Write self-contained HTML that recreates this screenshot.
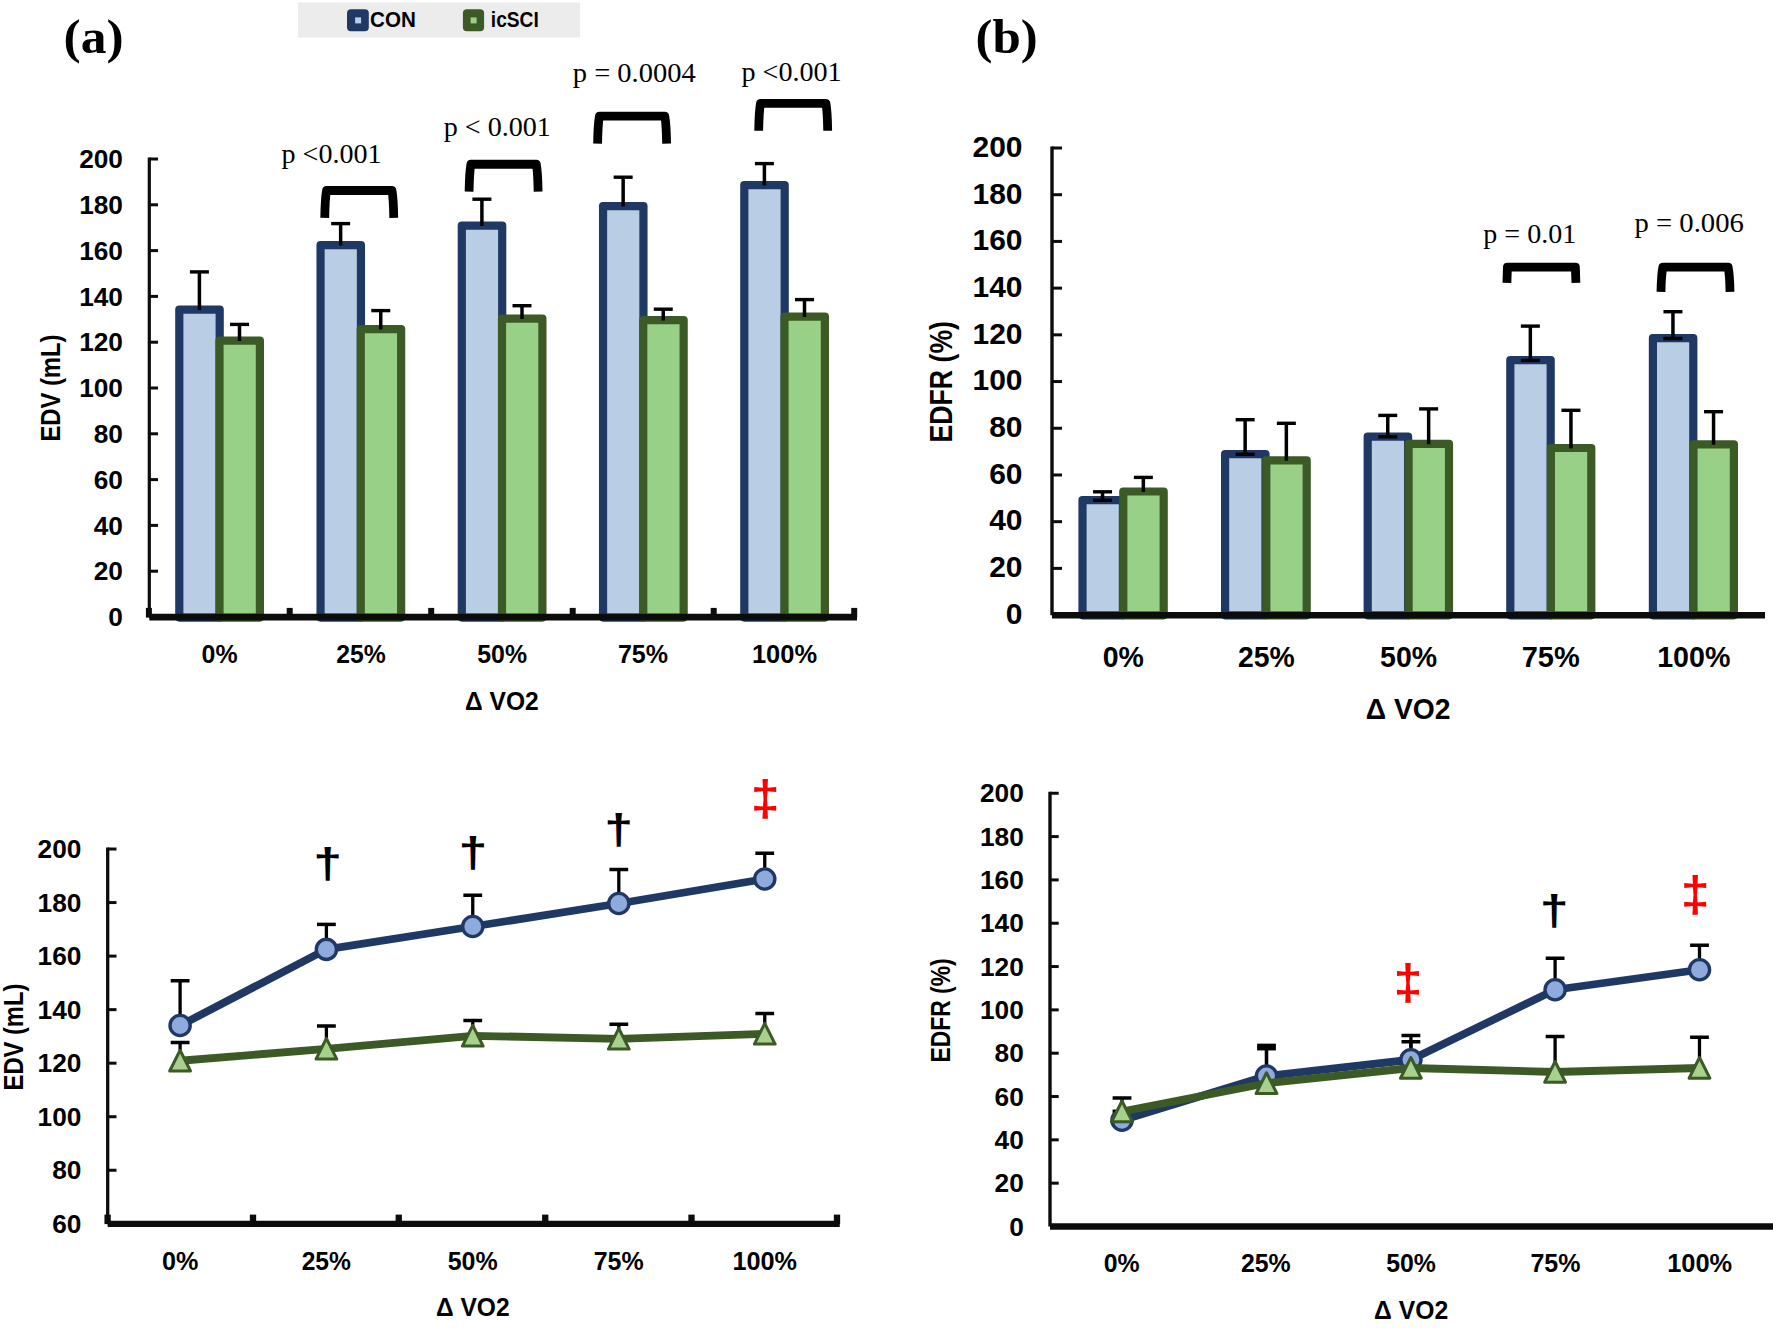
<!DOCTYPE html>
<html><head><meta charset="utf-8"><title>Figure</title>
<style>
html,body{margin:0;padding:0;background:#fff;}
svg{display:block}
text{font-kerning:none;white-space:pre}
</style></head><body>
<svg width="1773" height="1328" viewBox="0 0 1773 1328">
<rect width="1773" height="1328" fill="#fff"/>
<rect x="298" y="2.5" width="282" height="35" fill="#ececec"/>
<rect x="347" y="9.3" width="21.8" height="22" rx="4" fill="#1f3864"/>
<rect x="355.1" y="17.4" width="6" height="6" fill="#b9cde5"/>
<rect x="462.9" y="9.3" width="21.2" height="22" rx="4" fill="#3b5a25"/>
<rect x="470.6" y="17.4" width="6" height="6" fill="#99d087"/>
<text transform="translate(370.06,27.10) scale(0.9523,1.0000)" font-family="'Liberation Sans',sans-serif" font-weight="bold" font-size="21.61" fill="#000">CON</text>
<text transform="translate(490.86,27.10) scale(0.8866,1.0000)" font-family="'Liberation Sans',sans-serif" font-weight="bold" font-size="21.61" fill="#000">icSCI</text>
<text transform="translate(63.53,53.30) scale(1.0532,1.0000)" font-family="'Liberation Serif',serif" font-weight="bold" font-size="48.97" fill="#000">(a)</text>
<text transform="translate(975.46,53.30) scale(1.0407,1.0000)" font-family="'Liberation Serif',serif" font-weight="bold" font-size="48.97" fill="#000">(b)</text>
<rect x="179.30" y="309.60" width="40.40" height="308.00" fill="#b9cde5" stroke="#1f3864" stroke-width="8.2" stroke-linejoin="round"/>
<rect x="219.50" y="340.60" width="40.40" height="277.00" fill="#99d087" stroke="#3b5a25" stroke-width="8.2" stroke-linejoin="round"/>
<rect x="320.55" y="245.10" width="40.40" height="372.50" fill="#b9cde5" stroke="#1f3864" stroke-width="8.2" stroke-linejoin="round"/>
<rect x="360.75" y="329.10" width="40.40" height="288.50" fill="#99d087" stroke="#3b5a25" stroke-width="8.2" stroke-linejoin="round"/>
<rect x="461.80" y="225.60" width="40.40" height="392.00" fill="#b9cde5" stroke="#1f3864" stroke-width="8.2" stroke-linejoin="round"/>
<rect x="502.00" y="318.60" width="40.40" height="299.00" fill="#99d087" stroke="#3b5a25" stroke-width="8.2" stroke-linejoin="round"/>
<rect x="603.05" y="206.10" width="40.40" height="411.50" fill="#b9cde5" stroke="#1f3864" stroke-width="8.2" stroke-linejoin="round"/>
<rect x="643.25" y="320.10" width="40.40" height="297.50" fill="#99d087" stroke="#3b5a25" stroke-width="8.2" stroke-linejoin="round"/>
<rect x="744.30" y="185.10" width="40.40" height="432.50" fill="#b9cde5" stroke="#1f3864" stroke-width="8.2" stroke-linejoin="round"/>
<rect x="784.50" y="316.60" width="40.40" height="301.00" fill="#99d087" stroke="#3b5a25" stroke-width="8.2" stroke-linejoin="round"/>
<line x1="199.40" y1="271.90" x2="199.40" y2="310.00" stroke="#000" stroke-width="3.5" stroke-linecap="butt"/>
<line x1="189.90" y1="271.90" x2="208.90" y2="271.90" stroke="#000" stroke-width="3.4" stroke-linecap="butt"/>
<line x1="239.50" y1="324.40" x2="239.50" y2="341.00" stroke="#000" stroke-width="3.5" stroke-linecap="butt"/>
<line x1="230.00" y1="324.40" x2="249.00" y2="324.40" stroke="#000" stroke-width="3.4" stroke-linecap="butt"/>
<line x1="340.65" y1="223.60" x2="340.65" y2="245.50" stroke="#000" stroke-width="3.5" stroke-linecap="butt"/>
<line x1="331.15" y1="223.60" x2="350.15" y2="223.60" stroke="#000" stroke-width="3.4" stroke-linecap="butt"/>
<line x1="380.75" y1="310.60" x2="380.75" y2="329.50" stroke="#000" stroke-width="3.5" stroke-linecap="butt"/>
<line x1="371.25" y1="310.60" x2="390.25" y2="310.60" stroke="#000" stroke-width="3.4" stroke-linecap="butt"/>
<line x1="481.90" y1="199.20" x2="481.90" y2="226.00" stroke="#000" stroke-width="3.5" stroke-linecap="butt"/>
<line x1="472.40" y1="199.20" x2="491.40" y2="199.20" stroke="#000" stroke-width="3.4" stroke-linecap="butt"/>
<line x1="522.00" y1="305.70" x2="522.00" y2="319.00" stroke="#000" stroke-width="3.5" stroke-linecap="butt"/>
<line x1="512.50" y1="305.70" x2="531.50" y2="305.70" stroke="#000" stroke-width="3.4" stroke-linecap="butt"/>
<line x1="623.15" y1="177.20" x2="623.15" y2="206.50" stroke="#000" stroke-width="3.5" stroke-linecap="butt"/>
<line x1="613.65" y1="177.20" x2="632.65" y2="177.20" stroke="#000" stroke-width="3.4" stroke-linecap="butt"/>
<line x1="663.25" y1="309.20" x2="663.25" y2="320.50" stroke="#000" stroke-width="3.5" stroke-linecap="butt"/>
<line x1="653.75" y1="309.20" x2="672.75" y2="309.20" stroke="#000" stroke-width="3.4" stroke-linecap="butt"/>
<line x1="764.40" y1="163.60" x2="764.40" y2="185.50" stroke="#000" stroke-width="3.5" stroke-linecap="butt"/>
<line x1="754.90" y1="163.60" x2="773.90" y2="163.60" stroke="#000" stroke-width="3.4" stroke-linecap="butt"/>
<line x1="804.50" y1="299.60" x2="804.50" y2="317.00" stroke="#000" stroke-width="3.5" stroke-linecap="butt"/>
<line x1="795.00" y1="299.60" x2="814.00" y2="299.60" stroke="#000" stroke-width="3.4" stroke-linecap="butt"/>
<line x1="149.30" y1="157.50" x2="149.30" y2="617.10" stroke="#0c0c0c" stroke-width="3.2" stroke-linecap="butt"/>
<line x1="149.30" y1="617.00" x2="158.00" y2="617.00" stroke="#0c0c0c" stroke-width="3" stroke-linecap="butt"/>
<text transform="translate(108.37,626.20) scale(1.0100,1.0000)" font-family="'Liberation Sans',sans-serif" font-weight="bold" font-size="26.00" fill="#000">0</text>
<line x1="149.30" y1="571.20" x2="158.00" y2="571.20" stroke="#0c0c0c" stroke-width="3" stroke-linecap="butt"/>
<text transform="translate(93.77,580.40) scale(1.0100,1.0000)" font-family="'Liberation Sans',sans-serif" font-weight="bold" font-size="26.00" fill="#000">20</text>
<line x1="149.30" y1="525.40" x2="158.00" y2="525.40" stroke="#0c0c0c" stroke-width="3" stroke-linecap="butt"/>
<text transform="translate(93.77,534.60) scale(1.0100,1.0000)" font-family="'Liberation Sans',sans-serif" font-weight="bold" font-size="26.00" fill="#000">40</text>
<line x1="149.30" y1="479.60" x2="158.00" y2="479.60" stroke="#0c0c0c" stroke-width="3" stroke-linecap="butt"/>
<text transform="translate(93.77,488.80) scale(1.0100,1.0000)" font-family="'Liberation Sans',sans-serif" font-weight="bold" font-size="26.00" fill="#000">60</text>
<line x1="149.30" y1="433.80" x2="158.00" y2="433.80" stroke="#0c0c0c" stroke-width="3" stroke-linecap="butt"/>
<text transform="translate(93.77,443.00) scale(1.0100,1.0000)" font-family="'Liberation Sans',sans-serif" font-weight="bold" font-size="26.00" fill="#000">80</text>
<line x1="149.30" y1="388.00" x2="158.00" y2="388.00" stroke="#0c0c0c" stroke-width="3" stroke-linecap="butt"/>
<text transform="translate(79.16,397.20) scale(1.0100,1.0000)" font-family="'Liberation Sans',sans-serif" font-weight="bold" font-size="26.00" fill="#000">100</text>
<line x1="149.30" y1="342.20" x2="158.00" y2="342.20" stroke="#0c0c0c" stroke-width="3" stroke-linecap="butt"/>
<text transform="translate(79.16,351.40) scale(1.0100,1.0000)" font-family="'Liberation Sans',sans-serif" font-weight="bold" font-size="26.00" fill="#000">120</text>
<line x1="149.30" y1="296.40" x2="158.00" y2="296.40" stroke="#0c0c0c" stroke-width="3" stroke-linecap="butt"/>
<text transform="translate(79.16,305.60) scale(1.0100,1.0000)" font-family="'Liberation Sans',sans-serif" font-weight="bold" font-size="26.00" fill="#000">140</text>
<line x1="149.30" y1="250.60" x2="158.00" y2="250.60" stroke="#0c0c0c" stroke-width="3" stroke-linecap="butt"/>
<text transform="translate(79.16,259.80) scale(1.0100,1.0000)" font-family="'Liberation Sans',sans-serif" font-weight="bold" font-size="26.00" fill="#000">160</text>
<line x1="149.30" y1="204.80" x2="158.00" y2="204.80" stroke="#0c0c0c" stroke-width="3" stroke-linecap="butt"/>
<text transform="translate(79.16,214.00) scale(1.0100,1.0000)" font-family="'Liberation Sans',sans-serif" font-weight="bold" font-size="26.00" fill="#000">180</text>
<line x1="149.30" y1="159.00" x2="158.00" y2="159.00" stroke="#0c0c0c" stroke-width="3" stroke-linecap="butt"/>
<text transform="translate(79.16,168.20) scale(1.0100,1.0000)" font-family="'Liberation Sans',sans-serif" font-weight="bold" font-size="26.00" fill="#000">200</text>
<line x1="149.30" y1="617.10" x2="857.00" y2="617.10" stroke="#0c0c0c" stroke-width="6.7" stroke-linecap="butt"/>
<line x1="148.90" y1="607.90" x2="148.90" y2="617.60" stroke="#0c0c0c" stroke-width="6" stroke-linecap="butt"/>
<line x1="289.70" y1="607.90" x2="289.70" y2="617.60" stroke="#0c0c0c" stroke-width="6" stroke-linecap="butt"/>
<line x1="431.20" y1="607.90" x2="431.20" y2="617.60" stroke="#0c0c0c" stroke-width="6" stroke-linecap="butt"/>
<line x1="572.70" y1="607.90" x2="572.70" y2="617.60" stroke="#0c0c0c" stroke-width="6" stroke-linecap="butt"/>
<line x1="713.70" y1="607.90" x2="713.70" y2="617.60" stroke="#0c0c0c" stroke-width="6" stroke-linecap="butt"/>
<line x1="854.20" y1="607.90" x2="854.20" y2="617.60" stroke="#0c0c0c" stroke-width="6" stroke-linecap="butt"/>
<text transform="translate(201.61,663.20) scale(0.9592,1.0000)" font-family="'Liberation Sans',sans-serif" font-weight="bold" font-size="26.00" fill="#000">0%</text>
<text transform="translate(336.14,663.20) scale(0.9514,1.0000)" font-family="'Liberation Sans',sans-serif" font-weight="bold" font-size="26.00" fill="#000">25%</text>
<text transform="translate(477.23,663.20) scale(0.9574,1.0000)" font-family="'Liberation Sans',sans-serif" font-weight="bold" font-size="26.00" fill="#000">50%</text>
<text transform="translate(617.92,663.20) scale(0.9635,1.0000)" font-family="'Liberation Sans',sans-serif" font-weight="bold" font-size="26.00" fill="#000">75%</text>
<text transform="translate(751.89,663.20) scale(0.9801,1.0000)" font-family="'Liberation Sans',sans-serif" font-weight="bold" font-size="26.00" fill="#000">100%</text>
<text transform="translate(465.10,709.80) scale(0.9382,1.0000)" font-family="'Liberation Sans',sans-serif" font-weight="bold" font-size="26.20" fill="#000">Δ VO2</text>
<text transform="translate(59.85,441.59) rotate(-90) scale(0.8870,1.0000)" font-family="'Liberation Sans',sans-serif" font-weight="bold" font-size="26.80" fill="#000">EDV (mL)</text>
<path d="M324.75,217.90 Q325.05,198.50 326.55,190.50 L391.95,190.50 Q393.45,198.50 393.75,217.90" fill="none" stroke="#000" stroke-width="8.8" stroke-linejoin="round"/>
<path d="M469.10,191.65 Q469.40,172.25 470.90,164.25 L536.30,164.25 Q537.80,172.25 538.10,191.65" fill="none" stroke="#000" stroke-width="8.8" stroke-linejoin="round"/>
<path d="M597.60,143.60 Q597.90,124.20 599.40,116.20 L664.80,116.20 Q666.30,124.20 666.60,143.60" fill="none" stroke="#000" stroke-width="8.8" stroke-linejoin="round"/>
<path d="M758.70,130.80 Q759.00,111.40 760.50,103.40 L825.90,103.40 Q827.40,111.40 827.70,130.80" fill="none" stroke="#000" stroke-width="8.8" stroke-linejoin="round"/>
<text transform="translate(281.55,163.40) scale(0.9964,1.0000)" font-family="'Liberation Serif',serif" font-weight="normal" font-size="28.20" fill="#000">p &lt;0.001</text>
<text transform="translate(443.75,136.40) scale(0.9971,1.0000)" font-family="'Liberation Serif',serif" font-weight="normal" font-size="28.20" fill="#000">p &lt; 0.001</text>
<text transform="translate(572.74,82.00) scale(1.0119,1.0000)" font-family="'Liberation Serif',serif" font-weight="normal" font-size="28.20" fill="#000">p = 0.0004</text>
<text transform="translate(741.45,81.00) scale(0.9974,1.0000)" font-family="'Liberation Serif',serif" font-weight="normal" font-size="28.20" fill="#000">p &lt;0.001</text>
<rect x="1082.50" y="500.10" width="40.40" height="115.20" fill="#b9cde5" stroke="#1f3864" stroke-width="8.2" stroke-linejoin="round"/>
<rect x="1123.30" y="491.50" width="40.40" height="123.80" fill="#99d087" stroke="#3b5a25" stroke-width="8.2" stroke-linejoin="round"/>
<rect x="1225.10" y="454.10" width="40.40" height="161.20" fill="#b9cde5" stroke="#1f3864" stroke-width="8.2" stroke-linejoin="round"/>
<rect x="1266.30" y="460.30" width="40.40" height="155.00" fill="#99d087" stroke="#3b5a25" stroke-width="8.2" stroke-linejoin="round"/>
<rect x="1367.70" y="436.60" width="40.40" height="178.70" fill="#b9cde5" stroke="#1f3864" stroke-width="8.2" stroke-linejoin="round"/>
<rect x="1408.60" y="443.90" width="40.40" height="171.40" fill="#99d087" stroke="#3b5a25" stroke-width="8.2" stroke-linejoin="round"/>
<rect x="1510.30" y="360.10" width="40.40" height="255.20" fill="#b9cde5" stroke="#1f3864" stroke-width="8.2" stroke-linejoin="round"/>
<rect x="1550.90" y="448.00" width="40.40" height="167.30" fill="#99d087" stroke="#3b5a25" stroke-width="8.2" stroke-linejoin="round"/>
<rect x="1652.90" y="338.20" width="40.40" height="277.10" fill="#b9cde5" stroke="#1f3864" stroke-width="8.2" stroke-linejoin="round"/>
<rect x="1693.50" y="444.30" width="40.40" height="171.00" fill="#99d087" stroke="#3b5a25" stroke-width="8.2" stroke-linejoin="round"/>
<line x1="1102.55" y1="491.80" x2="1102.55" y2="500.30" stroke="#000" stroke-width="3.5" stroke-linecap="butt"/>
<line x1="1093.05" y1="491.80" x2="1112.05" y2="491.80" stroke="#000" stroke-width="3.4" stroke-linecap="butt"/>
<line x1="1093.05" y1="500.30" x2="1112.05" y2="500.30" stroke="#000" stroke-width="3.4" stroke-linecap="butt"/>
<line x1="1143.35" y1="477.40" x2="1143.35" y2="491.90" stroke="#000" stroke-width="3.5" stroke-linecap="butt"/>
<line x1="1133.85" y1="477.40" x2="1152.85" y2="477.40" stroke="#000" stroke-width="3.4" stroke-linecap="butt"/>
<line x1="1245.15" y1="419.70" x2="1245.15" y2="454.30" stroke="#000" stroke-width="3.5" stroke-linecap="butt"/>
<line x1="1235.65" y1="419.70" x2="1254.65" y2="419.70" stroke="#000" stroke-width="3.4" stroke-linecap="butt"/>
<line x1="1235.65" y1="454.30" x2="1254.65" y2="454.30" stroke="#000" stroke-width="3.4" stroke-linecap="butt"/>
<line x1="1286.35" y1="423.30" x2="1286.35" y2="460.70" stroke="#000" stroke-width="3.5" stroke-linecap="butt"/>
<line x1="1276.85" y1="423.30" x2="1295.85" y2="423.30" stroke="#000" stroke-width="3.4" stroke-linecap="butt"/>
<line x1="1387.75" y1="415.40" x2="1387.75" y2="436.80" stroke="#000" stroke-width="3.5" stroke-linecap="butt"/>
<line x1="1378.25" y1="415.40" x2="1397.25" y2="415.40" stroke="#000" stroke-width="3.4" stroke-linecap="butt"/>
<line x1="1378.25" y1="436.80" x2="1397.25" y2="436.80" stroke="#000" stroke-width="3.4" stroke-linecap="butt"/>
<line x1="1428.65" y1="408.90" x2="1428.65" y2="444.30" stroke="#000" stroke-width="3.5" stroke-linecap="butt"/>
<line x1="1419.15" y1="408.90" x2="1438.15" y2="408.90" stroke="#000" stroke-width="3.4" stroke-linecap="butt"/>
<line x1="1530.35" y1="326.10" x2="1530.35" y2="360.40" stroke="#000" stroke-width="3.5" stroke-linecap="butt"/>
<line x1="1520.85" y1="326.10" x2="1539.85" y2="326.10" stroke="#000" stroke-width="3.4" stroke-linecap="butt"/>
<line x1="1520.85" y1="360.40" x2="1539.85" y2="360.40" stroke="#000" stroke-width="3.4" stroke-linecap="butt"/>
<line x1="1570.95" y1="410.30" x2="1570.95" y2="448.40" stroke="#000" stroke-width="3.5" stroke-linecap="butt"/>
<line x1="1561.45" y1="410.30" x2="1580.45" y2="410.30" stroke="#000" stroke-width="3.4" stroke-linecap="butt"/>
<line x1="1672.95" y1="311.70" x2="1672.95" y2="338.50" stroke="#000" stroke-width="3.5" stroke-linecap="butt"/>
<line x1="1663.45" y1="311.70" x2="1682.45" y2="311.70" stroke="#000" stroke-width="3.4" stroke-linecap="butt"/>
<line x1="1663.45" y1="338.50" x2="1682.45" y2="338.50" stroke="#000" stroke-width="3.4" stroke-linecap="butt"/>
<line x1="1713.55" y1="411.70" x2="1713.55" y2="444.70" stroke="#000" stroke-width="3.5" stroke-linecap="butt"/>
<line x1="1704.05" y1="411.70" x2="1723.05" y2="411.70" stroke="#000" stroke-width="3.4" stroke-linecap="butt"/>
<line x1="1052.00" y1="146.50" x2="1052.00" y2="615.20" stroke="#0c0c0c" stroke-width="3.4" stroke-linecap="butt"/>
<line x1="1052.00" y1="615.10" x2="1062.00" y2="615.10" stroke="#0c0c0c" stroke-width="3" stroke-linecap="butt"/>
<text transform="translate(1005.85,623.90) scale(1.0100,1.0000)" font-family="'Liberation Sans',sans-serif" font-weight="bold" font-size="29.70" fill="#000">0</text>
<line x1="1052.00" y1="568.39" x2="1062.00" y2="568.39" stroke="#0c0c0c" stroke-width="3" stroke-linecap="butt"/>
<text transform="translate(989.16,577.19) scale(1.0100,1.0000)" font-family="'Liberation Sans',sans-serif" font-weight="bold" font-size="29.70" fill="#000">20</text>
<line x1="1052.00" y1="521.68" x2="1062.00" y2="521.68" stroke="#0c0c0c" stroke-width="3" stroke-linecap="butt"/>
<text transform="translate(989.16,530.48) scale(1.0100,1.0000)" font-family="'Liberation Sans',sans-serif" font-weight="bold" font-size="29.70" fill="#000">40</text>
<line x1="1052.00" y1="474.97" x2="1062.00" y2="474.97" stroke="#0c0c0c" stroke-width="3" stroke-linecap="butt"/>
<text transform="translate(989.16,483.77) scale(1.0100,1.0000)" font-family="'Liberation Sans',sans-serif" font-weight="bold" font-size="29.70" fill="#000">60</text>
<line x1="1052.00" y1="428.26" x2="1062.00" y2="428.26" stroke="#0c0c0c" stroke-width="3" stroke-linecap="butt"/>
<text transform="translate(989.16,437.06) scale(1.0100,1.0000)" font-family="'Liberation Sans',sans-serif" font-weight="bold" font-size="29.70" fill="#000">80</text>
<line x1="1052.00" y1="381.55" x2="1062.00" y2="381.55" stroke="#0c0c0c" stroke-width="3" stroke-linecap="butt"/>
<text transform="translate(972.48,390.35) scale(1.0100,1.0000)" font-family="'Liberation Sans',sans-serif" font-weight="bold" font-size="29.70" fill="#000">100</text>
<line x1="1052.00" y1="334.84" x2="1062.00" y2="334.84" stroke="#0c0c0c" stroke-width="3" stroke-linecap="butt"/>
<text transform="translate(972.48,343.64) scale(1.0100,1.0000)" font-family="'Liberation Sans',sans-serif" font-weight="bold" font-size="29.70" fill="#000">120</text>
<line x1="1052.00" y1="288.13" x2="1062.00" y2="288.13" stroke="#0c0c0c" stroke-width="3" stroke-linecap="butt"/>
<text transform="translate(972.48,296.93) scale(1.0100,1.0000)" font-family="'Liberation Sans',sans-serif" font-weight="bold" font-size="29.70" fill="#000">140</text>
<line x1="1052.00" y1="241.42" x2="1062.00" y2="241.42" stroke="#0c0c0c" stroke-width="3" stroke-linecap="butt"/>
<text transform="translate(972.48,250.22) scale(1.0100,1.0000)" font-family="'Liberation Sans',sans-serif" font-weight="bold" font-size="29.70" fill="#000">160</text>
<line x1="1052.00" y1="194.71" x2="1062.00" y2="194.71" stroke="#0c0c0c" stroke-width="3" stroke-linecap="butt"/>
<text transform="translate(972.48,203.51) scale(1.0100,1.0000)" font-family="'Liberation Sans',sans-serif" font-weight="bold" font-size="29.70" fill="#000">180</text>
<line x1="1052.00" y1="148.00" x2="1062.00" y2="148.00" stroke="#0c0c0c" stroke-width="3" stroke-linecap="butt"/>
<text transform="translate(972.48,156.80) scale(1.0100,1.0000)" font-family="'Liberation Sans',sans-serif" font-weight="bold" font-size="29.70" fill="#000">200</text>
<line x1="1052.00" y1="615.20" x2="1765.00" y2="615.20" stroke="#0c0c0c" stroke-width="6.4" stroke-linecap="butt"/>
<text transform="translate(1102.77,667.30) scale(0.9372,1.0000)" font-family="'Liberation Sans',sans-serif" font-weight="bold" font-size="30.40" fill="#000">0%</text>
<text transform="translate(1238.02,667.30) scale(0.9324,1.0000)" font-family="'Liberation Sans',sans-serif" font-weight="bold" font-size="30.40" fill="#000">25%</text>
<text transform="translate(1380.12,667.30) scale(0.9390,1.0000)" font-family="'Liberation Sans',sans-serif" font-weight="bold" font-size="30.40" fill="#000">50%</text>
<text transform="translate(1521.75,667.30) scale(0.9534,1.0000)" font-family="'Liberation Sans',sans-serif" font-weight="bold" font-size="30.40" fill="#000">75%</text>
<text transform="translate(1657.20,667.30) scale(0.9422,1.0000)" font-family="'Liberation Sans',sans-serif" font-weight="bold" font-size="30.40" fill="#000">100%</text>
<text transform="translate(1365.75,718.50) scale(0.9428,1.0000)" font-family="'Liberation Sans',sans-serif" font-weight="bold" font-size="30.00" fill="#000">Δ VO2</text>
<text transform="translate(951.60,442.48) rotate(-90) scale(0.8689,1.0000)" font-family="'Liberation Sans',sans-serif" font-weight="bold" font-size="30.70" fill="#000">EDFR (%)</text>
<path d="M1506.90,282.80 Q1507.20,275.20 1507.40,267.20 L1575.40,267.20 Q1575.60,275.20 1575.90,282.80" fill="none" stroke="#000" stroke-width="8.8" stroke-linejoin="round"/>
<path d="M1661.00,291.80 Q1661.30,275.20 1662.80,267.20 L1728.20,267.20 Q1729.70,275.20 1730.00,291.80" fill="none" stroke="#000" stroke-width="8.8" stroke-linejoin="round"/>
<text transform="translate(1483.30,243.00) scale(0.9939,1.0000)" font-family="'Liberation Serif',serif" font-weight="normal" font-size="28.20" fill="#000">p = 0.01</text>
<text transform="translate(1634.54,231.60) scale(1.0164,1.0000)" font-family="'Liberation Serif',serif" font-weight="normal" font-size="28.20" fill="#000">p = 0.006</text>
<polyline points="180.10,1025.50 326.40,949.40 472.75,926.50 618.80,903.50 764.75,879.00" fill="none" stroke="#1f3864" stroke-width="7.8" stroke-linejoin="round" stroke-linecap="round"/>
<line x1="180.10" y1="980.75" x2="180.10" y2="1017.50" stroke="#000" stroke-width="3.3" stroke-linecap="butt"/>
<line x1="170.70" y1="980.75" x2="189.50" y2="980.75" stroke="#000" stroke-width="3.5" stroke-linecap="butt"/>
<line x1="326.40" y1="924.40" x2="326.40" y2="941.40" stroke="#000" stroke-width="3.3" stroke-linecap="butt"/>
<line x1="317.00" y1="924.40" x2="335.80" y2="924.40" stroke="#000" stroke-width="3.5" stroke-linecap="butt"/>
<line x1="472.75" y1="895.25" x2="472.75" y2="918.50" stroke="#000" stroke-width="3.3" stroke-linecap="butt"/>
<line x1="463.35" y1="895.25" x2="482.15" y2="895.25" stroke="#000" stroke-width="3.5" stroke-linecap="butt"/>
<line x1="618.80" y1="869.50" x2="618.80" y2="895.50" stroke="#000" stroke-width="3.3" stroke-linecap="butt"/>
<line x1="609.40" y1="869.50" x2="628.20" y2="869.50" stroke="#000" stroke-width="3.5" stroke-linecap="butt"/>
<line x1="764.75" y1="853.25" x2="764.75" y2="871.00" stroke="#000" stroke-width="3.3" stroke-linecap="butt"/>
<line x1="755.35" y1="853.25" x2="774.15" y2="853.25" stroke="#000" stroke-width="3.5" stroke-linecap="butt"/>
<line x1="180.10" y1="1042.50" x2="180.10" y2="1052.75" stroke="#000" stroke-width="3.3" stroke-linecap="butt"/>
<line x1="170.70" y1="1042.50" x2="189.50" y2="1042.50" stroke="#000" stroke-width="3.5" stroke-linecap="butt"/>
<line x1="326.40" y1="1026.00" x2="326.40" y2="1040.80" stroke="#000" stroke-width="3.3" stroke-linecap="butt"/>
<line x1="317.00" y1="1026.00" x2="335.80" y2="1026.00" stroke="#000" stroke-width="3.5" stroke-linecap="butt"/>
<line x1="472.75" y1="1020.50" x2="472.75" y2="1027.80" stroke="#000" stroke-width="3.3" stroke-linecap="butt"/>
<line x1="463.35" y1="1020.50" x2="482.15" y2="1020.50" stroke="#000" stroke-width="3.5" stroke-linecap="butt"/>
<line x1="618.80" y1="1024.25" x2="618.80" y2="1030.80" stroke="#000" stroke-width="3.3" stroke-linecap="butt"/>
<line x1="609.40" y1="1024.25" x2="628.20" y2="1024.25" stroke="#000" stroke-width="3.5" stroke-linecap="butt"/>
<line x1="764.75" y1="1013.50" x2="764.75" y2="1025.80" stroke="#000" stroke-width="3.3" stroke-linecap="butt"/>
<line x1="755.35" y1="1013.50" x2="774.15" y2="1013.50" stroke="#000" stroke-width="3.5" stroke-linecap="butt"/>
<circle cx="180.10" cy="1025.50" r="10.1" fill="#8faadc" stroke="#1f3864" stroke-width="3.4"/>
<circle cx="326.40" cy="949.40" r="10.1" fill="#8faadc" stroke="#1f3864" stroke-width="3.4"/>
<circle cx="472.75" cy="926.50" r="10.1" fill="#8faadc" stroke="#1f3864" stroke-width="3.4"/>
<circle cx="618.80" cy="903.50" r="10.1" fill="#8faadc" stroke="#1f3864" stroke-width="3.4"/>
<circle cx="764.75" cy="879.00" r="10.1" fill="#8faadc" stroke="#1f3864" stroke-width="3.4"/>
<polyline points="180.10,1060.75 326.40,1048.80 472.75,1035.80 618.80,1038.80 764.75,1033.80" fill="none" stroke="#3b5a25" stroke-width="7.8" stroke-linejoin="round" stroke-linecap="round"/>
<path d="M180.10,1050.25 L190.50,1071.00 L169.70,1071.00 Z" fill="#a9d18e" stroke="#3b5a25" stroke-width="3" stroke-linejoin="round"/>
<path d="M326.40,1038.30 L336.80,1059.05 L316.00,1059.05 Z" fill="#a9d18e" stroke="#3b5a25" stroke-width="3" stroke-linejoin="round"/>
<path d="M472.75,1025.30 L483.15,1046.05 L462.35,1046.05 Z" fill="#a9d18e" stroke="#3b5a25" stroke-width="3" stroke-linejoin="round"/>
<path d="M618.80,1028.30 L629.20,1049.05 L608.40,1049.05 Z" fill="#a9d18e" stroke="#3b5a25" stroke-width="3" stroke-linejoin="round"/>
<path d="M764.75,1023.30 L775.15,1044.05 L754.35,1044.05 Z" fill="#a9d18e" stroke="#3b5a25" stroke-width="3" stroke-linejoin="round"/>
<line x1="107.70" y1="847.50" x2="107.70" y2="1223.80" stroke="#0c0c0c" stroke-width="3.3" stroke-linecap="butt"/>
<line x1="107.70" y1="1223.80" x2="116.50" y2="1223.80" stroke="#0c0c0c" stroke-width="3" stroke-linecap="butt"/>
<text transform="translate(52.17,1233.00) scale(1.0100,1.0000)" font-family="'Liberation Sans',sans-serif" font-weight="bold" font-size="26.00" fill="#000">60</text>
<line x1="107.70" y1="1170.26" x2="116.50" y2="1170.26" stroke="#0c0c0c" stroke-width="3" stroke-linecap="butt"/>
<text transform="translate(52.17,1179.46) scale(1.0100,1.0000)" font-family="'Liberation Sans',sans-serif" font-weight="bold" font-size="26.00" fill="#000">80</text>
<line x1="107.70" y1="1116.72" x2="116.50" y2="1116.72" stroke="#0c0c0c" stroke-width="3" stroke-linecap="butt"/>
<text transform="translate(37.56,1125.92) scale(1.0100,1.0000)" font-family="'Liberation Sans',sans-serif" font-weight="bold" font-size="26.00" fill="#000">100</text>
<line x1="107.70" y1="1063.18" x2="116.50" y2="1063.18" stroke="#0c0c0c" stroke-width="3" stroke-linecap="butt"/>
<text transform="translate(37.56,1072.38) scale(1.0100,1.0000)" font-family="'Liberation Sans',sans-serif" font-weight="bold" font-size="26.00" fill="#000">120</text>
<line x1="107.70" y1="1009.64" x2="116.50" y2="1009.64" stroke="#0c0c0c" stroke-width="3" stroke-linecap="butt"/>
<text transform="translate(37.56,1018.84) scale(1.0100,1.0000)" font-family="'Liberation Sans',sans-serif" font-weight="bold" font-size="26.00" fill="#000">140</text>
<line x1="107.70" y1="956.10" x2="116.50" y2="956.10" stroke="#0c0c0c" stroke-width="3" stroke-linecap="butt"/>
<text transform="translate(37.56,965.30) scale(1.0100,1.0000)" font-family="'Liberation Sans',sans-serif" font-weight="bold" font-size="26.00" fill="#000">160</text>
<line x1="107.70" y1="902.56" x2="116.50" y2="902.56" stroke="#0c0c0c" stroke-width="3" stroke-linecap="butt"/>
<text transform="translate(37.56,911.76) scale(1.0100,1.0000)" font-family="'Liberation Sans',sans-serif" font-weight="bold" font-size="26.00" fill="#000">180</text>
<line x1="107.70" y1="849.02" x2="116.50" y2="849.02" stroke="#0c0c0c" stroke-width="3" stroke-linecap="butt"/>
<text transform="translate(37.56,858.22) scale(1.0100,1.0000)" font-family="'Liberation Sans',sans-serif" font-weight="bold" font-size="26.00" fill="#000">200</text>
<line x1="107.70" y1="1223.80" x2="839.75" y2="1223.80" stroke="#0c0c0c" stroke-width="6.3" stroke-linecap="butt"/>
<line x1="107.60" y1="1214.60" x2="107.60" y2="1224.10" stroke="#0c0c0c" stroke-width="6.3" stroke-linecap="butt"/>
<line x1="253.00" y1="1214.60" x2="253.00" y2="1224.10" stroke="#0c0c0c" stroke-width="6.3" stroke-linecap="butt"/>
<line x1="398.75" y1="1214.60" x2="398.75" y2="1224.10" stroke="#0c0c0c" stroke-width="6.3" stroke-linecap="butt"/>
<line x1="545.25" y1="1214.60" x2="545.25" y2="1224.10" stroke="#0c0c0c" stroke-width="6.3" stroke-linecap="butt"/>
<line x1="691.50" y1="1214.60" x2="691.50" y2="1224.10" stroke="#0c0c0c" stroke-width="6.3" stroke-linecap="butt"/>
<line x1="837.00" y1="1214.60" x2="837.00" y2="1224.10" stroke="#0c0c0c" stroke-width="6.3" stroke-linecap="butt"/>
<text transform="translate(162.01,1269.60) scale(0.9675,1.0000)" font-family="'Liberation Sans',sans-serif" font-weight="bold" font-size="26.00" fill="#000">0%</text>
<text transform="translate(301.65,1269.60) scale(0.9475,1.0000)" font-family="'Liberation Sans',sans-serif" font-weight="bold" font-size="26.00" fill="#000">25%</text>
<text transform="translate(447.73,1269.60) scale(0.9594,1.0000)" font-family="'Liberation Sans',sans-serif" font-weight="bold" font-size="26.00" fill="#000">50%</text>
<text transform="translate(593.68,1269.60) scale(0.9605,1.0000)" font-family="'Liberation Sans',sans-serif" font-weight="bold" font-size="26.00" fill="#000">75%</text>
<text transform="translate(732.41,1269.60) scale(0.9708,1.0000)" font-family="'Liberation Sans',sans-serif" font-weight="bold" font-size="26.00" fill="#000">100%</text>
<text transform="translate(435.90,1315.80) scale(0.9382,1.0000)" font-family="'Liberation Sans',sans-serif" font-weight="bold" font-size="26.20" fill="#000">Δ VO2</text>
<text transform="translate(23.40,1090.39) rotate(-90) scale(0.8853,1.0000)" font-family="'Liberation Sans',sans-serif" font-weight="bold" font-size="26.80" fill="#000">EDV (mL)</text>
<text transform="translate(313.25,877.83) scale(1.2128,1.0000)" font-family="'Liberation Sans',sans-serif" font-weight="bold" font-size="42.80" fill="#000">†</text>
<text transform="translate(458.45,866.63) scale(1.2128,1.0000)" font-family="'Liberation Sans',sans-serif" font-weight="bold" font-size="42.80" fill="#000">†</text>
<text transform="translate(604.15,843.63) scale(1.2128,1.0000)" font-family="'Liberation Sans',sans-serif" font-weight="bold" font-size="42.80" fill="#000">†</text>
<text transform="translate(750.65,814.52) scale(1.0612,1.0000)" font-family="'Liberation Sans',sans-serif" font-weight="bold" font-size="49.03" fill="#f00">‡</text>
<polyline points="1122.00,1120.25 1266.50,1076.00 1410.90,1059.75 1555.10,989.75 1699.50,969.75" fill="none" stroke="#1f3864" stroke-width="7.8" stroke-linejoin="round" stroke-linecap="round"/>
<line x1="1122.00" y1="1111.30" x2="1122.00" y2="1112.25" stroke="#000" stroke-width="3.3" stroke-linecap="butt"/>
<line x1="1112.60" y1="1111.30" x2="1131.40" y2="1111.30" stroke="#000" stroke-width="3.5" stroke-linecap="butt"/>
<line x1="1266.50" y1="1045.40" x2="1266.50" y2="1068.00" stroke="#000" stroke-width="3.3" stroke-linecap="butt"/>
<line x1="1257.10" y1="1045.40" x2="1275.90" y2="1045.40" stroke="#000" stroke-width="3.5" stroke-linecap="butt"/>
<line x1="1410.90" y1="1041.75" x2="1410.90" y2="1051.75" stroke="#000" stroke-width="3.3" stroke-linecap="butt"/>
<line x1="1401.50" y1="1041.75" x2="1420.30" y2="1041.75" stroke="#000" stroke-width="3.5" stroke-linecap="butt"/>
<line x1="1555.10" y1="958.25" x2="1555.10" y2="981.75" stroke="#000" stroke-width="3.3" stroke-linecap="butt"/>
<line x1="1545.70" y1="958.25" x2="1564.50" y2="958.25" stroke="#000" stroke-width="3.5" stroke-linecap="butt"/>
<line x1="1699.50" y1="945.25" x2="1699.50" y2="961.75" stroke="#000" stroke-width="3.3" stroke-linecap="butt"/>
<line x1="1690.10" y1="945.25" x2="1708.90" y2="945.25" stroke="#000" stroke-width="3.5" stroke-linecap="butt"/>
<line x1="1122.00" y1="1098.00" x2="1122.00" y2="1103.50" stroke="#000" stroke-width="3.3" stroke-linecap="butt"/>
<line x1="1112.60" y1="1098.00" x2="1131.40" y2="1098.00" stroke="#000" stroke-width="3.5" stroke-linecap="butt"/>
<line x1="1266.50" y1="1048.70" x2="1266.50" y2="1075.25" stroke="#000" stroke-width="3.3" stroke-linecap="butt"/>
<line x1="1257.10" y1="1048.70" x2="1275.90" y2="1048.70" stroke="#000" stroke-width="3.5" stroke-linecap="butt"/>
<line x1="1410.90" y1="1035.50" x2="1410.90" y2="1060.00" stroke="#000" stroke-width="3.3" stroke-linecap="butt"/>
<line x1="1401.50" y1="1035.50" x2="1420.30" y2="1035.50" stroke="#000" stroke-width="3.5" stroke-linecap="butt"/>
<line x1="1555.10" y1="1036.50" x2="1555.10" y2="1064.00" stroke="#000" stroke-width="3.3" stroke-linecap="butt"/>
<line x1="1545.70" y1="1036.50" x2="1564.50" y2="1036.50" stroke="#000" stroke-width="3.5" stroke-linecap="butt"/>
<line x1="1699.50" y1="1037.25" x2="1699.50" y2="1060.00" stroke="#000" stroke-width="3.3" stroke-linecap="butt"/>
<line x1="1690.10" y1="1037.25" x2="1708.90" y2="1037.25" stroke="#000" stroke-width="3.5" stroke-linecap="butt"/>
<circle cx="1122.00" cy="1120.25" r="10.1" fill="#8faadc" stroke="#1f3864" stroke-width="3.4"/>
<circle cx="1266.50" cy="1076.00" r="10.1" fill="#8faadc" stroke="#1f3864" stroke-width="3.4"/>
<circle cx="1410.90" cy="1059.75" r="10.1" fill="#8faadc" stroke="#1f3864" stroke-width="3.4"/>
<circle cx="1555.10" cy="989.75" r="10.1" fill="#8faadc" stroke="#1f3864" stroke-width="3.4"/>
<circle cx="1699.50" cy="969.75" r="10.1" fill="#8faadc" stroke="#1f3864" stroke-width="3.4"/>
<polyline points="1122.00,1111.50 1266.50,1083.25 1410.90,1068.00 1555.10,1072.00 1699.50,1068.00" fill="none" stroke="#3b5a25" stroke-width="7.8" stroke-linejoin="round" stroke-linecap="round"/>
<path d="M1122.00,1101.00 L1132.40,1121.75 L1111.60,1121.75 Z" fill="#a9d18e" stroke="#3b5a25" stroke-width="3" stroke-linejoin="round"/>
<path d="M1266.50,1072.75 L1276.90,1093.50 L1256.10,1093.50 Z" fill="#a9d18e" stroke="#3b5a25" stroke-width="3" stroke-linejoin="round"/>
<path d="M1410.90,1057.50 L1421.30,1078.25 L1400.50,1078.25 Z" fill="#a9d18e" stroke="#3b5a25" stroke-width="3" stroke-linejoin="round"/>
<path d="M1555.10,1061.50 L1565.50,1082.25 L1544.70,1082.25 Z" fill="#a9d18e" stroke="#3b5a25" stroke-width="3" stroke-linejoin="round"/>
<path d="M1699.50,1057.50 L1709.90,1078.25 L1689.10,1078.25 Z" fill="#a9d18e" stroke="#3b5a25" stroke-width="3" stroke-linejoin="round"/>
<line x1="1050.00" y1="791.75" x2="1050.00" y2="1226.50" stroke="#0c0c0c" stroke-width="3.4" stroke-linecap="butt"/>
<line x1="1050.00" y1="1226.50" x2="1058.70" y2="1226.50" stroke="#0c0c0c" stroke-width="3" stroke-linecap="butt"/>
<text transform="translate(1009.17,1235.70) scale(1.0100,1.0000)" font-family="'Liberation Sans',sans-serif" font-weight="bold" font-size="26.00" fill="#000">0</text>
<line x1="1050.00" y1="1183.17" x2="1058.70" y2="1183.17" stroke="#0c0c0c" stroke-width="3" stroke-linecap="butt"/>
<text transform="translate(994.57,1192.38) scale(1.0100,1.0000)" font-family="'Liberation Sans',sans-serif" font-weight="bold" font-size="26.00" fill="#000">20</text>
<line x1="1050.00" y1="1139.85" x2="1058.70" y2="1139.85" stroke="#0c0c0c" stroke-width="3" stroke-linecap="butt"/>
<text transform="translate(994.57,1149.05) scale(1.0100,1.0000)" font-family="'Liberation Sans',sans-serif" font-weight="bold" font-size="26.00" fill="#000">40</text>
<line x1="1050.00" y1="1096.53" x2="1058.70" y2="1096.53" stroke="#0c0c0c" stroke-width="3" stroke-linecap="butt"/>
<text transform="translate(994.57,1105.73) scale(1.0100,1.0000)" font-family="'Liberation Sans',sans-serif" font-weight="bold" font-size="26.00" fill="#000">60</text>
<line x1="1050.00" y1="1053.20" x2="1058.70" y2="1053.20" stroke="#0c0c0c" stroke-width="3" stroke-linecap="butt"/>
<text transform="translate(994.57,1062.40) scale(1.0100,1.0000)" font-family="'Liberation Sans',sans-serif" font-weight="bold" font-size="26.00" fill="#000">80</text>
<line x1="1050.00" y1="1009.88" x2="1058.70" y2="1009.88" stroke="#0c0c0c" stroke-width="3" stroke-linecap="butt"/>
<text transform="translate(979.96,1019.08) scale(1.0100,1.0000)" font-family="'Liberation Sans',sans-serif" font-weight="bold" font-size="26.00" fill="#000">100</text>
<line x1="1050.00" y1="966.55" x2="1058.70" y2="966.55" stroke="#0c0c0c" stroke-width="3" stroke-linecap="butt"/>
<text transform="translate(979.96,975.75) scale(1.0100,1.0000)" font-family="'Liberation Sans',sans-serif" font-weight="bold" font-size="26.00" fill="#000">120</text>
<line x1="1050.00" y1="923.23" x2="1058.70" y2="923.23" stroke="#0c0c0c" stroke-width="3" stroke-linecap="butt"/>
<text transform="translate(979.96,932.43) scale(1.0100,1.0000)" font-family="'Liberation Sans',sans-serif" font-weight="bold" font-size="26.00" fill="#000">140</text>
<line x1="1050.00" y1="879.90" x2="1058.70" y2="879.90" stroke="#0c0c0c" stroke-width="3" stroke-linecap="butt"/>
<text transform="translate(979.96,889.10) scale(1.0100,1.0000)" font-family="'Liberation Sans',sans-serif" font-weight="bold" font-size="26.00" fill="#000">160</text>
<line x1="1050.00" y1="836.58" x2="1058.70" y2="836.58" stroke="#0c0c0c" stroke-width="3" stroke-linecap="butt"/>
<text transform="translate(979.96,845.78) scale(1.0100,1.0000)" font-family="'Liberation Sans',sans-serif" font-weight="bold" font-size="26.00" fill="#000">180</text>
<line x1="1050.00" y1="793.25" x2="1058.70" y2="793.25" stroke="#0c0c0c" stroke-width="3" stroke-linecap="butt"/>
<text transform="translate(979.96,802.45) scale(1.0100,1.0000)" font-family="'Liberation Sans',sans-serif" font-weight="bold" font-size="26.00" fill="#000">200</text>
<line x1="1050.00" y1="1226.50" x2="1773.00" y2="1226.50" stroke="#0c0c0c" stroke-width="6.3" stroke-linecap="butt"/>
<text transform="translate(1103.77,1272.00) scale(0.9550,1.0000)" font-family="'Liberation Sans',sans-serif" font-weight="bold" font-size="26.00" fill="#000">0%</text>
<text transform="translate(1240.89,1272.00) scale(0.9564,1.0000)" font-family="'Liberation Sans',sans-serif" font-weight="bold" font-size="26.00" fill="#000">25%</text>
<text transform="translate(1386.24,1272.00) scale(0.9554,1.0000)" font-family="'Liberation Sans',sans-serif" font-weight="bold" font-size="26.00" fill="#000">50%</text>
<text transform="translate(1530.43,1272.00) scale(0.9615,1.0000)" font-family="'Liberation Sans',sans-serif" font-weight="bold" font-size="26.00" fill="#000">75%</text>
<text transform="translate(1667.15,1272.00) scale(0.9778,1.0000)" font-family="'Liberation Sans',sans-serif" font-weight="bold" font-size="26.00" fill="#000">100%</text>
<text transform="translate(1374.00,1318.80) scale(0.9447,1.0000)" font-family="'Liberation Sans',sans-serif" font-weight="bold" font-size="26.20" fill="#000">Δ VO2</text>
<text transform="translate(950.10,1062.53) rotate(-90) scale(0.8533,1.0000)" font-family="'Liberation Sans',sans-serif" font-weight="bold" font-size="26.80" fill="#000">EDFR (%)</text>
<text transform="translate(1393.45,999.02) scale(1.0612,1.0000)" font-family="'Liberation Sans',sans-serif" font-weight="bold" font-size="49.03" fill="#f00">‡</text>
<text transform="translate(1539.65,925.23) scale(1.2128,1.0000)" font-family="'Liberation Sans',sans-serif" font-weight="bold" font-size="42.80" fill="#000">†</text>
<text transform="translate(1680.75,910.62) scale(1.0612,1.0000)" font-family="'Liberation Sans',sans-serif" font-weight="bold" font-size="49.03" fill="#f00">‡</text>
</svg>
</body></html>
